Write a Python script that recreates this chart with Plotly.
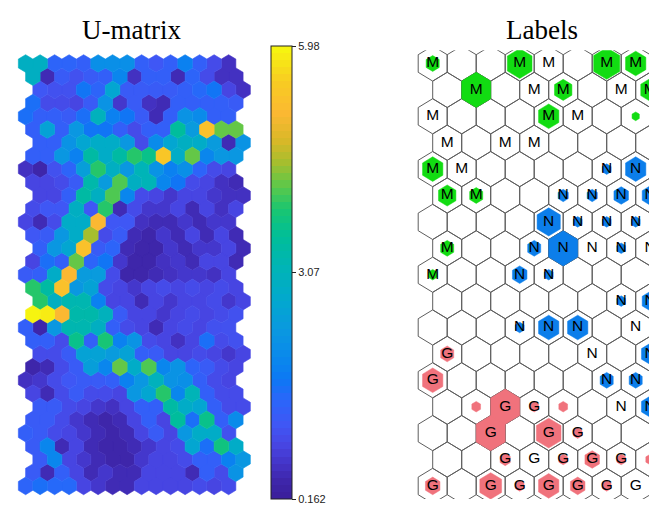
import plotly.graph_objects as go
from plotly.colors import sample_colorscale, hex_to_rgb

# ---------------- data ----------------
UMIN, UMAX = 0.162, 5.98
CB_TICKVALS = [0.162, 3.07, 5.98]
CB_TICKTEXT = ["0.162", "3.07", "5.98"]

# U-matrix values (33 rows x 15 columns)
UMAT = [
    [2.9, 2.9, 1.4, 1.4, 1.3, 2.1, 2.1, 2.1, 1.3, 1.1, 1.3, 1.8, 1.3, 0.9, 0.6],
    [2.9, 0.5, 1.2, 1.0, 1.2, 1.3, 1.9, 0.6, 1.3, 1.3, 0.5, 1.4, 0.9, 0.6, 0.6],
    [1.1, 1.0, 1.0, 1.7, 1.4, 2.7, 1.2, 1.2, 1.2, 1.2, 1.3, 1.5, 1.7, 0.8, 0.6],
    [1.6, 0.9, 0.9, 0.8, 1.2, 2.2, 0.7, 1.2, 0.6, 0.5, 1.3, 1.3, 1.3, 1.3, 1.2],
    [1.6, 1.3, 1.3, 1.2, 1.6, 3.0, 1.8, 1.7, 1.2, 0.5, 1.3, 2.2, 2.0, 1.3, 1.3],
    [1.3, 2.6, 1.3, 2.3, 1.7, 1.7, 1.3, 0.9, 1.3, 1.3, 3.5, 2.4, 5.3, 4.2, 4.25],
    [1.3, 1.3, 2.2, 2.7, 2.8, 2.8, 2.3, 0.9, 2.0, 2.7, 2.9, 2.8, 2.4, 0.5, 2.2],
    [1.3, 1.3, 2.3, 1.8, 3.4, 2.8, 3.4, 3.95, 3.7, 5.35, 2.8, 4.2, 1.9, 2.3, 2.3],
    [0.6, 0.4, 1.0, 1.4, 2.5, 3.9, 2.9, 2.3, 3.1, 2.2, 1.8, 2.1, 1.4, 0.9, 0.8],
    [0.8, 0.8, 0.9, 1.2, 3.3, 2.4, 4.15, 2.9, 3.1, 1.9, 1.7, 0.9, 0.8, 0.6, 0.5],
    [0.8, 0.8, 1.3, 3.4, 2.9, 4.15, 1.9, 0.9, 0.8, 0.7, 0.8, 0.8, 0.7, 0.6, 0.6],
    [0.9, 1.1, 1.1, 2.9, 1.1, 3.95, 0.5, 0.9, 0.7, 0.7, 0.8, 0.5, 0.8, 0.6, 0.8],
    [0.8, 0.5, 0.9, 2.8, 2.8, 5.1, 1.1, 1.1, 0.6, 0.5, 0.5, 0.7, 0.5, 0.7, 0.7],
    [1.1, 1.2, 2.3, 2.8, 4.5, 0.9, 1.2, 0.5, 0.4, 0.7, 0.5, 0.8, 0.5, 0.8, 0.5],
    [1.3, 2.3, 2.7, 5.3, 1.2, 1.4, 0.5, 0.4, 0.4, 0.7, 0.5, 0.7, 0.7, 0.8, 0.5],
    [0.8, 1.6, 1.3, 4.25, 1.4, 1.7, 0.7, 0.4, 0.4, 0.6, 0.7, 0.5, 0.8, 0.8, 0.5],
    [1.2, 1.3, 2.8, 5.1, 2.4, 2.4, 0.9, 0.4, 0.4, 0.5, 0.6, 0.7, 0.7, 0.6, 0.8],
    [3.95, 3.4, 5.3, 2.3, 2.6, 0.9, 0.8, 0.7, 0.8, 0.9, 0.8, 0.9, 0.8, 0.9, 0.8],
    [3.95, 2.9, 3.2, 3.2, 1.8, 0.8, 0.8, 0.5, 0.8, 0.7, 0.8, 0.8, 0.9, 0.7, 0.8],
    [5.98, 5.85, 5.15, 3.3, 3.3, 3.0, 1.2, 0.8, 0.8, 0.7, 0.8, 0.9, 0.8, 0.9, 1.0],
    [1.3, 0.4, 2.3, 3.2, 3.2, 2.9, 1.3, 0.9, 0.8, 0.5, 0.8, 0.9, 0.8, 1.0, 1.0],
    [1.3, 1.3, 0.9, 3.7, 1.3, 3.85, 1.8, 2.2, 0.9, 0.8, 0.6, 0.8, 1.6, 0.9, 1.0],
    [0.9, 0.9, 1.2, 2.6, 2.6, 2.4, 2.6, 1.3, 1.2, 0.8, 0.8, 0.9, 0.8, 0.7, 0.8],
    [0.4, 0.5, 0.9, 1.2, 2.5, 1.9, 4.2, 2.8, 4.15, 1.9, 2.2, 1.4, 1.2, 0.9, 0.8],
    [0.6, 0.7, 0.9, 1.1, 1.2, 1.2, 1.3, 1.8, 2.3, 3.0, 2.2, 2.1, 1.3, 0.9, 0.8],
    [0.8, 0.5, 0.9, 1.2, 0.9, 0.9, 0.8, 2.3, 2.7, 3.95, 1.9, 3.1, 1.3, 0.9, 0.9],
    [1.2, 1.2, 0.9, 0.8, 0.7, 0.6, 0.8, 1.3, 1.3, 3.4, 2.8, 2.7, 1.3, 0.9, 0.9],
    [1.2, 1.2, 0.9, 0.7, 0.5, 0.4, 0.5, 0.8, 1.3, 0.8, 3.5, 1.6, 3.7, 1.3, 2.0],
    [1.3, 1.2, 0.9, 0.8, 0.7, 0.5, 0.4, 0.5, 0.8, 1.2, 0.8, 2.3, 2.8, 2.8, 1.0],
    [1.2, 1.9, 0.5, 0.8, 0.5, 0.4, 0.4, 0.5, 0.7, 0.8, 0.9, 2.7, 1.6, 3.75, 2.8],
    [1.2, 1.9, 0.8, 0.7, 0.5, 0.4, 0.4, 0.7, 0.8, 0.8, 0.9, 1.3, 1.3, 1.8, 2.3],
    [1.2, 0.5, 1.3, 0.8, 0.5, 0.7, 0.5, 0.5, 0.8, 0.8, 0.8, 0.5, 1.3, 0.9, 2.2],
    [1.4, 1.6, 1.5, 1.5, 0.8, 0.7, 0.5, 0.5, 0.8, 0.8, 0.8, 0.8, 0.9, 0.8, 0.9],
]

# Label map (17 rows x 8 columns); '.' = no label
LABELS = [
    "M..MM.MM",
    ".M.MM.MM",
    "M...MM..",
    "M.MM....",
    "MM....NN",
    "MM..NNNN",
    "....NNNN",
    "M..NNNNN",
    "M..NN...",
    "......NN",
    "...NNN.N",
    "G....N.N",
    "G.....NN",
    "..GG..NN",
    "..G.GG..",
    "..GGGGG.",
    "G.GGGGGG",
]
# class of the hit marker in each cell
HIT_CLASS = [
    "M..M..MM",
    ".M..M..M",
    "....M..M",
    "........",
    "M.....NN",
    "MM..NNNN",
    "....NNNN",
    "M..NN.N.",
    "M..NN...",
    "......NN",
    "...NNN..",
    "G......N",
    "G.....NN",
    ".GGGG..N",
    "..G.GG..",
    "..G.GGGG",
    "G.GGGGG.",
]
# relative hit size in each cell
HIT_SIZE = [
    [0.45, 0, 0, 0.85, 0, 0, 0.9, 0.7],
    [0, 1.0, 0, 0, 0.6, 0, 0, 0.65],
    [0, 0, 0, 0, 0.7, 0, 0, 0.25],
    [0, 0, 0, 0, 0, 0, 0, 0],
    [0.7, 0, 0, 0, 0, 0, 0.3, 0.7],
    [0.6, 0.45, 0, 0, 0.35, 0.35, 0.5, 0.55],
    [0, 0, 0, 0, 0.8, 0.3, 0.3, 0.3],
    [0.45, 0, 0, 0.45, 1.0, 0, 0.3, 0],
    [0.3, 0, 0, 0.5, 0.3, 0, 0, 0],
    [0, 0, 0, 0, 0, 0, 0.3, 0.55],
    [0, 0, 0, 0.3, 0.7, 0.7, 0, 0],
    [0.45, 0, 0, 0, 0, 0, 0, 0.6],
    [0.7, 0, 0, 0, 0, 0, 0.45, 0.45],
    [0, 0.3, 1.0, 0.3, 0.3, 0, 0, 0.6],
    [0, 0, 1.0, 0, 0.85, 0.3, 0, 0],
    [0, 0, 0.35, 0, 0.3, 0.5, 0.3, 0.3],
    [0.5, 0, 0.75, 0.3, 0.7, 0.5, 0.3, 0],
]
CLASS_COLORS = {"M": "#12DC12", "N": "#0C7EEA", "G": "#F0727C"}

# parula-like colour map
PARULA_STOPS = [0.0, 0.04, 0.08, 0.12, 0.165, 0.22, 0.265, 0.31, 0.37, 0.44, 0.51, 0.58,
                0.64, 0.69, 0.74, 0.79, 0.85, 0.92, 1.0]
PARULA_HEX = ["#3A1E9A", "#3E26AA", "#4434C8", "#4746E4", "#3F57F5", "#2A66FA",
              "#0C78F4", "#0A88EC", "#0A98E0", "#02A8CE", "#00B4B6", "#00BE98",
              "#1AC670", "#5CC84A", "#A4BE2E", "#D8B828", "#FBB832", "#F8CC22", "#F6F80E"]

# ---------------- geometry ----------------
# The page body has an 8px margin, so the figure is drawn 8px in from the
# window corner; all positions below are window pixels minus that offset.
PAGE_OFF = 8
WIN_W, WIN_H = 657, 506
W, H = WIN_W - PAGE_OFF, WIN_H - PAGE_OFF

U_X0, U_DX = 25.6 - PAGE_OFF, 14.5      # U-matrix col 0 centre, column pitch
Y0, U_DY = 63.5 - PAGE_OFF, 13.2        # row 0 centre, U row pitch
L_X0, L_DX = 432.7 - PAGE_OFF, 29.0     # label map col 0 centre, column pitch

HEX_DX = [0, 0.5, 0.5, 0, -0.5, -0.5, 0]
HEX_DY = [-2 / 3, -1 / 3, 1 / 3, 2 / 3, 1 / 3, -1 / 3, -2 / 3]
U_SHIFT = [0, 0.5, 1, 0.5]

base_scale = [[s, "rgb(%d,%d,%d)" % hex_to_rgb(h)] for s, h in zip(PARULA_STOPS, PARULA_HEX)]
N_BINS = 64
bin_cols = sample_colorscale(base_scale, [(i + 0.5) / N_BINS for i in range(N_BINS)])
stepped = []
for i, c in enumerate(bin_cols):
    stepped.append([i / N_BINS, c])
    stepped.append([(i + 1) / N_BINS, c])

fig = go.Figure()

# U-matrix hexagons grouped by colour bin
groups = {}
for r, row in enumerate(UMAT):
    for c, v in enumerate(row):
        t = (v - UMIN) / (UMAX - UMIN)
        b = min(max(int(t * N_BINS), 0), N_BINS - 1)
        cx = c + U_SHIFT[r % 4]
        xs, ys = groups.setdefault(b, ([], []))
        xs.extend([cx + d for d in HEX_DX] + [None])
        ys.extend([r + d for d in HEX_DY] + [None])
for b in sorted(groups):
    xs, ys = groups[b]
    fig.add_trace(go.Scatter(x=xs, y=ys, mode="lines", fill="toself",
                             fillcolor=bin_cols[b],
                             line=dict(color=bin_cols[b], width=0.6),
                             hoverinfo="skip", showlegend=False,
                             xaxis="x", yaxis="y"))

# colorbar
CB_TOP, CB_BOT = 46 - PAGE_OFF, 499 - PAGE_OFF
fig.add_trace(go.Scatter(
    x=[-50], y=[-50], mode="markers", showlegend=False, hoverinfo="skip",
    marker=dict(color=[UMIN], cmin=UMIN, cmax=UMAX, colorscale=stepped,
                opacity=0, showscale=True,
                colorbar=dict(
                    x=(271 - PAGE_OFF) / W, xanchor="left", xpad=0, ypad=0,
                    y=1 - (CB_TOP + CB_BOT) / 2 / H, yanchor="middle",
                    len=CB_BOT - CB_TOP, lenmode="pixels",
                    thickness=21, thicknessmode="pixels",
                    outlinewidth=1, outlinecolor="#222222",
                    tickvals=CB_TICKVALS, ticktext=CB_TICKTEXT,
                    ticks="outside", ticklen=4, tickcolor="#222222",
                    ticklabeloverflow="allow",
                    tickfont=dict(family="Liberation Sans, Arial", size=11, color="#222222"),
                )),
    xaxis="x", yaxis="y"))

# label map: outlines
n_rows = len(LABELS)
n_cols = len(LABELS[0])
ox, oy = [], []
for r in range(n_rows):
    for c in range(n_cols):
        cx = c + 0.5 * (r % 2)
        ox.extend([cx + d for d in HEX_DX] + [None])
        oy.extend([r + d for d in HEX_DY] + [None])
fig.add_trace(go.Scatter(x=ox, y=oy, mode="lines", line=dict(color="#5e5e5e", width=1),
                         hoverinfo="skip", showlegend=False, xaxis="x2", yaxis="y2"))

# hit markers
for cls, col in CLASS_COLORS.items():
    hx, hy = [], []
    for r in range(n_rows):
        for c in range(n_cols):
            if HIT_CLASS[r][c] == cls and HIT_SIZE[r][c] > 0:
                s = HIT_SIZE[r][c]
                cx = c + 0.5 * (r % 2)
                hx.extend([cx + s * d for d in HEX_DX] + [None])
                hy.extend([r + s * d for d in HEX_DY] + [None])
    fig.add_trace(go.Scatter(x=hx, y=hy, mode="lines", fill="toself", fillcolor=col,
                             line=dict(color=col, width=0.5), hoverinfo="skip",
                             showlegend=False, xaxis="x2", yaxis="y2"))

# label text
tx, ty, tt = [], [], []
for r in range(n_rows):
    for c in range(n_cols):
        if LABELS[r][c] != ".":
            tx.append(c + 0.5 * (r % 2))
            ty.append(r)
            tt.append(LABELS[r][c])
fig.add_trace(go.Scatter(x=tx, y=ty, text=tt, mode="text", textposition="middle center",
                         textfont=dict(family="Liberation Sans, Arial", size=15.5, color="black"),
                         hoverinfo="skip", showlegend=False, xaxis="x2", yaxis="y2"))

# axes geometry
n_urows = len(UMAT)
y_top_px = Y0 - U_DY
y_bot_px = Y0 + n_urows * U_DY
ydom = [1 - y_bot_px / H, 1 - y_top_px / H]
ux_lo, ux_hi = -1, 16
xdom1 = [(U_X0 + ux_lo * U_DX) / W, (U_X0 + ux_hi * U_DX) / W]
lx_left_px = 407.3 - PAGE_OFF
lx_lo = (lx_left_px - L_X0) / L_DX
lx_hi = (W - L_X0) / L_DX
xdom2 = [lx_left_px / W, 1.0]

TITLE_Y = 30 - PAGE_OFF
fig.update_layout(
    width=W, height=H,
    margin=dict(l=0, r=0, t=0, b=0, pad=0, autoexpand=False),
    paper_bgcolor="white", plot_bgcolor="white", showlegend=False,
    xaxis=dict(domain=xdom1, range=[ux_lo, ux_hi], visible=False, anchor="y"),
    yaxis=dict(domain=ydom, range=[n_urows, -1], visible=False, anchor="x"),
    xaxis2=dict(domain=xdom2, range=[lx_lo, lx_hi], visible=False, anchor="y2"),
    yaxis2=dict(domain=ydom, range=[n_rows - 0.5, -0.5], visible=False, anchor="x2"),
    annotations=[
        dict(text="U-matrix", x=(131 - PAGE_OFF) / W, y=1 - TITLE_Y / H, xref="paper", yref="paper",
             xanchor="center", yanchor="middle", showarrow=False,
             font=dict(family="Liberation Serif, Times New Roman", size=27, color="black")),
        dict(text="Labels", x=(542 - PAGE_OFF) / W, y=1 - TITLE_Y / H, xref="paper", yref="paper",
             xanchor="center", yanchor="middle", showarrow=False,
             font=dict(family="Liberation Serif, Times New Roman", size=27, color="black")),
    ],
)

fig.write_html("out.html")
